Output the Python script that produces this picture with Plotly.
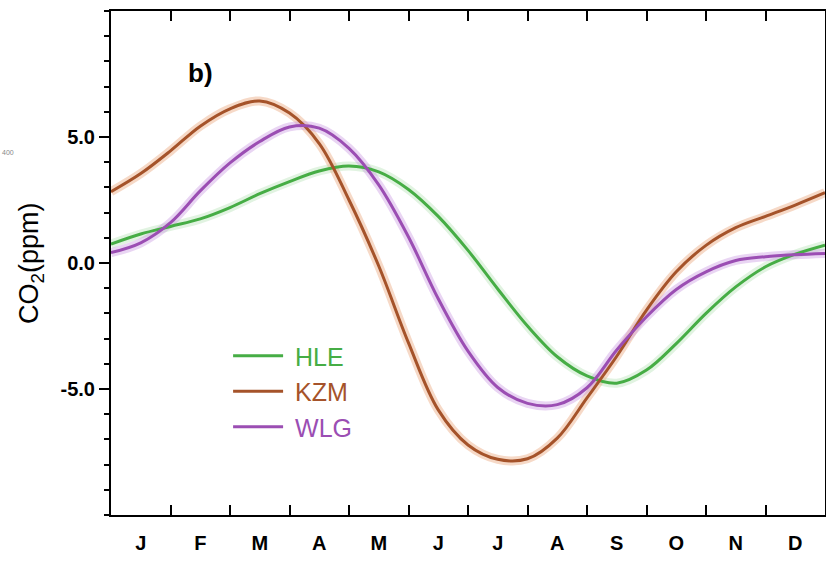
import plotly.graph_objects as go

# month positions (0 = start of Jan, 12 = end of Dec), half-month grid
month_pos = [0, 0.5, 1, 1.5, 2, 2.5, 3, 3.5, 4, 4.5, 5, 5.5, 6,
             6.5, 7, 7.5, 8, 8.5, 9, 9.5, 10, 10.5, 11, 11.5, 12]

hle = [0.75, 1.15, 1.45, 1.75, 2.2, 2.75, 3.23, 3.65, 3.85, 3.62, 2.92, 1.85, 0.5,
       -1.03, -2.5, -3.72, -4.48, -4.77, -4.25, -3.2, -2.0, -0.95, -0.15, 0.35, 0.71]
kzm = [2.83, 3.55, 4.45, 5.43, 6.12, 6.43, 5.95, 4.74, 2.5, -0.12, -3.17, -5.83, -7.22,
       -7.79, -7.77, -6.95, -5.35, -3.7, -1.87, -0.35, 0.7, 1.4, 1.85, 2.3, 2.79]
wlg = [0.41, 0.8, 1.6, 2.86, 3.97, 4.82, 5.4, 5.35, 4.55, 3.1, 1.03, -1.42, -3.5,
       -4.94, -5.57, -5.62, -4.95, -3.45, -2.13, -1.05, -0.35, 0.1, 0.25, 0.33, 0.38]

month_labels = ["J", "F", "M", "A", "M", "J", "J", "A", "S", "O", "N", "D"]
label_pos = [0.5, 1.5, 2.5, 3.5, 4.5, 5.5, 6.5, 7.5, 8.5, 9.5, 10.5, 11.5]
boundary_pos = [1, 2, 3, 4, 5, 6, 7, 8, 9, 10, 11]
ytick_vals = [-5, 0, 5]
ytick_text = ["-5.0", "0.0", "5.0"]

series = [
    ("HLE", hle, "#46ad45", "rgba(120,200,120,0.22)"),
    ("KZM", kzm, "#a5532a", "rgba(235,170,130,0.45)"),
    ("WLG", wlg, "#9b4eb3", "rgba(200,150,225,0.40)"),
]

FONT = "Liberation Sans, Arial, Helvetica, sans-serif"

fig = go.Figure()
# soft uncertainty halo under each curve (main axis, drawn first)
for name, vals, col, band in series:
    fig.add_trace(go.Scatter(x=month_pos, y=vals, mode="lines",
                             line=dict(color=band, width=9, shape="spline", smoothing=1.0),
                             showlegend=False, hoverinfo="skip"))
# curves on the overlaying label axis (same range) so they sit on top of the halos
for name, vals, col, band in series:
    fig.add_trace(go.Scatter(x=month_pos, y=vals, mode="lines", xaxis="x2",
                             name=f'<span style="color:{col}">&nbsp;{name}</span>',
                             line=dict(color=col, width=3, shape="spline", smoothing=1.0)))

fig.update_layout(
    width=826, height=562,
    margin=dict(l=111, r=1, t=11, b=47, autoexpand=False),
    paper_bgcolor="white", plot_bgcolor="white",
    font=dict(family=FONT, color="black"),
    showlegend=True,
    legend=dict(x=0.164, y=0.361, xanchor="left", yanchor="top",
                bgcolor="rgba(0,0,0,0)", font=dict(size=25, family=FONT),
                itemwidth=50, tracegroupgap=0),
    xaxis=dict(
        range=[0, 12], tickmode="array", tickvals=boundary_pos,
        ticks="inside", ticklen=10, tickwidth=2, tickcolor="black",
        showticklabels=False, showgrid=False, zeroline=False, automargin=False,
        showline=True, linecolor="black", linewidth=2, mirror="ticks",
    ),
    xaxis2=dict(
        range=[0, 12], overlaying="x", anchor="y", side="bottom",
        tickmode="array", tickvals=label_pos, ticktext=month_labels,
        ticks="", showline=False, showgrid=False, zeroline=False, automargin=False,
        tickfont=dict(size=20, family=FONT, color="black", weight="bold"),
        ticklabelstandoff=14,
    ),
    yaxis=dict(
        range=[-10, 10], tickmode="array", tickvals=ytick_vals, ticktext=ytick_text,
        ticks="outside", ticklen=10, tickwidth=2, tickcolor="black",
        showgrid=False, zeroline=False, automargin=False,
        showline=True, linecolor="black", linewidth=2, mirror=True,
        tickfont=dict(size=20, family=FONT, color="black", weight="bold"),
        minor=dict(dtick=1, tick0=0, ticks="outside", ticklen=5, tickwidth=1.5,
                   tickcolor="black", showgrid=False),
    ),
)

fig.add_annotation(text="CO<sub>2</sub>(ppm)", xref="paper", yref="paper",
                   x=-0.112, y=0.5, xanchor="center", yanchor="middle",
                   textangle=-90, showarrow=False,
                   font=dict(size=27, family=FONT, color="black"))
fig.add_annotation(text="<b>b)</b>", xref="x", yref="y", x=1.51, y=7.55,
                   xanchor="center", yanchor="middle", showarrow=False,
                   font=dict(size=26, family=FONT, color="black"))
fig.add_annotation(text="400", xref="paper", yref="paper", x=-0.144, y=0.72,
                   xanchor="center", yanchor="middle", showarrow=False,
                   font=dict(size=7, family=FONT, color="#888888"))

fig.write_html("out.html", config={"displayModeBar": False},
               post_script="document.body.style.margin='0';document.body.style.padding='0';")
